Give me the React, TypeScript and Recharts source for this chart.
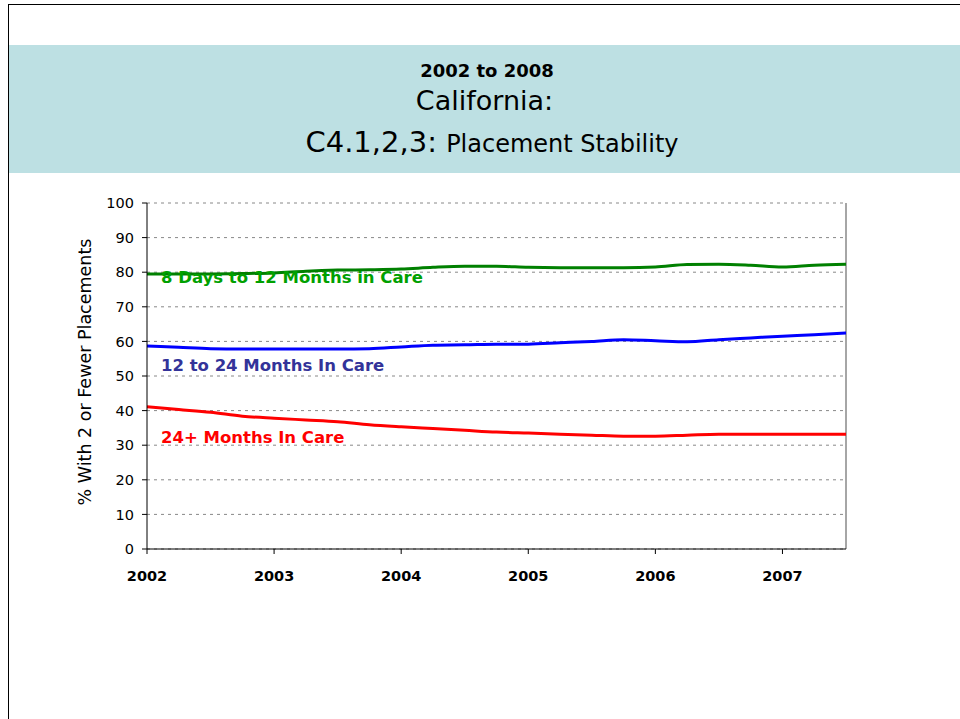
import * as React from 'react';
import { LineChart, Line, XAxis, YAxis, CartesianGrid, ReferenceLine, ReferenceDot } from 'recharts';

// quarters from 2002.00 to 2007.50
const quarters = [
    2002, 2002.25, 2002.5, 2002.75, 2003, 2003.25, 2003.5, 2003.75,
    2004, 2004.25, 2004.5, 2004.75, 2005, 2005.25, 2005.5, 2005.75,
    2006, 2006.25, 2006.5, 2006.75, 2007, 2007.25, 2007.5,
];
const days8to12 = [
    79.5, 79.5, 79.5, 79.6, 79.8, 80.3, 80.6, 80.7,
    80.9, 81.4, 81.7, 81.7, 81.4, 81.3, 81.3, 81.3,
    81.5, 82.2, 82.3, 82.0, 81.5, 82.0, 82.3,
];
const months12to24 = [
    58.7, 58.3, 57.9, 57.8, 57.8, 57.8, 57.8, 57.9,
    58.4, 58.9, 59.0, 59.2, 59.2, 59.6, 60.0, 60.5,
    60.2, 59.9, 60.5, 61.0, 61.5, 61.9, 62.4,
];
const months24plus = [
    41.1, 40.3, 39.5, 38.4, 37.8, 37.3, 36.8, 35.9,
    35.3, 34.8, 34.3, 33.8, 33.5, 33.2, 32.9, 32.6,
    32.6, 32.9, 33.2, 33.2, 33.2, 33.2, 33.2,
];
const yearTicks = [2002, 2003, 2004, 2005, 2006, 2007];
const yTicks = [0, 10, 20, 30, 40, 50, 60, 70, 80, 90, 100];
const seriesNames = ['8 Days to 12 Months in Care', '12 to 24 Months In Care', '24+ Months In Care'];

const FONT = '"Comic Sans MS", "DejaVu Sans", sans-serif';

const data = quarters.map((q, i) => ({
    t: q,
    a: days8to12[i],
    b: months12to24[i],
    c: months24plus[i],
}));

const SeriesLabel = (props: any) => {
    const { viewBox, value, color } = props;
    return (
        <text x={viewBox.x} y={viewBox.y} dy={6} textAnchor="start"
            fontFamily={FONT} fontWeight="bold" fontSize={16.5} fill={color}>
            {value}
        </text>
    );
};

const YTitle = (props: any) => {
    const { viewBox } = props;
    const cx = viewBox.x + 4;
    const cy = viewBox.y + viewBox.height / 2 - 4;
    return (
        <text x={cx} y={cy} textAnchor="middle" fontFamily={FONT} fontSize={17.5} fill="#000"
            transform={`rotate(-90, ${cx}, ${cy})`}>
            % With 2 or Fewer Placements
        </text>
    );
};

export default function App() {
    return (
        <div style={{ position: 'absolute', left: 0, top: 0, width: 960, height: 719, background: '#fff', overflow: 'hidden', fontFamily: FONT }}>
            <div style={{ position: 'absolute', left: 8, top: 4, width: 952, height: 1, background: '#000' }} />
            <div style={{ position: 'absolute', left: 8, top: 4, width: 1, height: 715, background: '#000' }} />
            <div style={{ position: 'absolute', left: 9, top: 45, width: 951, height: 128, background: '#bde0e3' }}>
                <div style={{ position: 'absolute', left: 0, right: 0, top: 15, textAlign: 'center', fontSize: 18, fontWeight: 'bold', lineHeight: '22px', paddingLeft: 5 }}>
                    2002 to 2008
                </div>
                <div style={{ position: 'absolute', left: 0, right: 0, top: 40, textAlign: 'center', fontSize: 27, lineHeight: '32px', paddingLeft: 0 }}>
                    California:
                </div>
                <div style={{ position: 'absolute', left: 0, right: 0, top: 79, textAlign: 'center', fontSize: 29, lineHeight: '36px', paddingLeft: 15 }}>
                    C4.1,2,3: <span style={{ fontSize: 24 }}>Placement Stability</span>
                </div>
            </div>
            <div style={{ position: 'absolute', left: 0, top: 0 }}>
                <LineChart width={960} height={719} data={data}
                    margin={{ top: 203, right: 114, left: 87, bottom: 140 }}>
                    <CartesianGrid vertical={false} stroke="#888" strokeDasharray="3 4" />
                    <XAxis dataKey="t" type="number" domain={[2002, 2007.5]} ticks={yearTicks}
                        allowDataOverflow height={30} tickSize={5} tickMargin={17}
                        axisLine={{ stroke: '#000' }} tickLine={{ stroke: '#000' }}
                        tick={{ fill: '#000', fontSize: 14.5, fontWeight: 'bold', fontFamily: FONT }} />
                    <YAxis type="number" domain={[0, 100]} ticks={yTicks} width={60}
                        tickSize={5} tickMargin={8} interval={0}
                        axisLine={{ stroke: '#000' }} tickLine={{ stroke: '#000' }}
                        tick={{ fill: '#000', fontSize: 14.5, fontFamily: FONT }}
                        label={{ content: (p: any) => <YTitle {...p} /> }} />
                    <ReferenceLine x={2007.5} stroke="#888" strokeWidth={1.5} />
                    <Line type="monotone" dataKey="a" stroke="#008000" strokeWidth={3} dot={false} isAnimationActive={false} />
                    <Line type="monotone" dataKey="b" stroke="#0000ff" strokeWidth={3} dot={false} isAnimationActive={false} />
                    <Line type="monotone" dataKey="c" stroke="#ff0000" strokeWidth={3} dot={false} isAnimationActive={false} />
                    <ReferenceDot x={2002.11} y={78.6} r={0} fill="none" stroke="none"
                        label={{ content: (p: any) => <SeriesLabel {...p} value={seriesNames[0]} color="#00a000" /> }} />
                    <ReferenceDot x={2002.11} y={53.2} r={0} fill="none" stroke="none"
                        label={{ content: (p: any) => <SeriesLabel {...p} value={seriesNames[1]} color="#333399" /> }} />
                    <ReferenceDot x={2002.11} y={32.4} r={0} fill="none" stroke="none"
                        label={{ content: (p: any) => <SeriesLabel {...p} value={seriesNames[2]} color="#ff0000" /> }} />
                </LineChart>
            </div>
        </div>
    );
}
